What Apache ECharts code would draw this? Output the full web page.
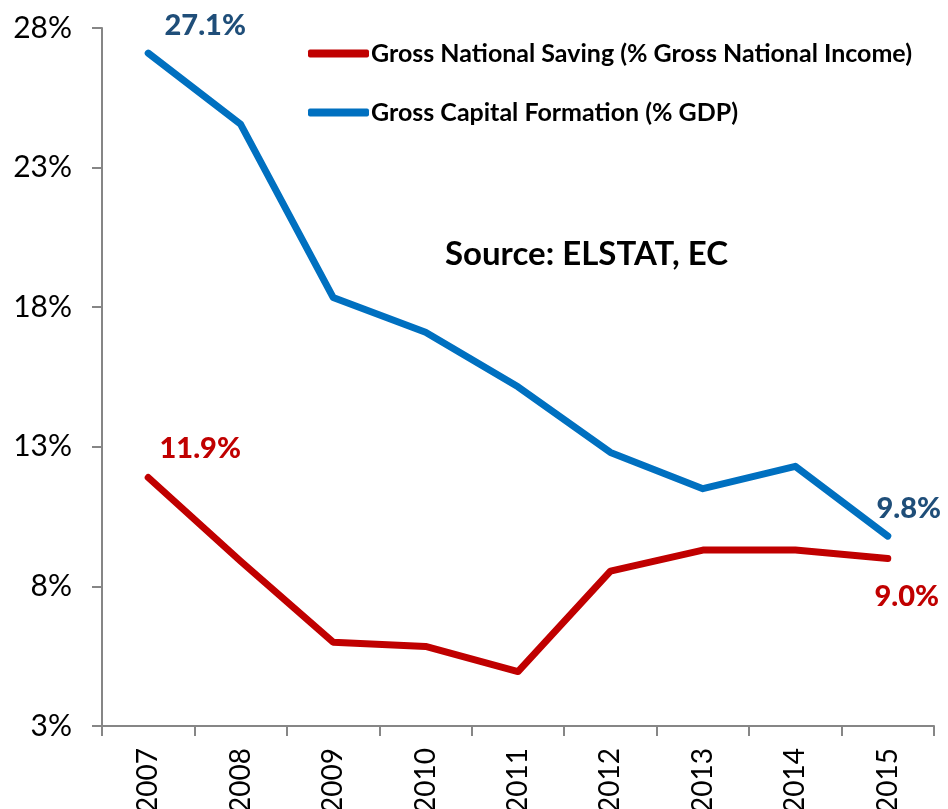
<!DOCTYPE html>
<html>
<head>
<meta charset="utf-8">
<script src="https://cdn.jsdelivr.net/npm/echarts@6/dist/echarts.min.js"></script>
<style>
  html, body { margin: 0; padding: 0; background: #fff; }
  #chart { width: 948px; height: 809px; }
</style>
</head>
<body>
<div id="chart"></div>
<script>
// Greece: saving vs investment, 2007-2015
const years = ['2007', '2008', '2009', '2010', '2011', '2012', '2013', '2014', '2015'];
const savingName = 'Gross National Saving (% Gross National Income)';
const capitalName = 'Gross Capital Formation (% GDP)';
const saving = [11.9, 8.9, 6.0, 5.85, 4.95, 8.55, 9.3, 9.3, 9.0];
const capital = [27.1, 24.55, 18.35, 17.1, 15.15, 12.8, 11.5, 12.3, 9.8];
const sourceText = 'Source: ELSTAT, EC';

const FONT = 'Lato, "Open Sans", sans-serif';
const RED = '#C00000';
const BLUE = '#0070C0';
const BLUE_LABEL = '#1F4E79';

// Only the first and last points carry a value label
function withEndLabels(values, color, firstOffset, lastOffset) {
  return values.map((v, i) => {
    const item = { value: v };
    if (i === 0 || i === values.length - 1) {
      item.label = {
        show: true,
        position: 'top',
        offset: i === 0 ? firstOffset : lastOffset,
        formatter: (p) => p.value.toFixed(1) + '%',
        color: color,
        fontFamily: FONT,
        fontWeight: 900,
        fontSize: 29
      };
    }
    return item;
  });
}

const chart = echarts.init(document.getElementById('chart'), null, { renderer: 'canvas' });
chart.setOption({
  backgroundColor: '#ffffff',
  animation: false,
  grid: { left: 102, right: 14, top: 28, bottom: 83, containLabel: false, outerBoundsMode: 'none' },
  title: {
    text: sourceText,
    left: 440,
    top: 233,
    textStyle: { fontFamily: FONT, fontWeight: 'bold', fontSize: 33, color: '#000' }
  },
  legend: {
    orient: 'vertical',
    left: 303,
    top: 36,
    itemGap: 34,
    itemWidth: 61,
    itemHeight: 8,
    icon: 'roundRect',
    textStyle: { fontFamily: FONT, fontWeight: 'bold', fontSize: 25, color: '#000', padding: [0, 0, 0, -3] },
    data: [savingName, capitalName]
  },
  xAxis: {
    type: 'category',
    data: years,
    boundaryGap: true,
    axisLine: { lineStyle: { color: '#868686', width: 2 } },
    axisTick: { show: true, length: 10, lineStyle: { color: '#868686', width: 2 } },
    axisLabel: {
      rotate: 90,
      margin: 22,
      fontFamily: FONT,
      fontSize: 28,
      color: '#000'
    },
    splitLine: { show: false }
  },
  yAxis: {
    type: 'value',
    min: 3,
    max: 28,
    interval: 5,
    axisLine: { show: true, lineStyle: { color: '#868686', width: 2 } },
    axisTick: { show: true, length: 10, lineStyle: { color: '#868686', width: 2 } },
    axisLabel: {
      margin: 30,
      formatter: '{value}%',
      fontFamily: FONT,
      fontSize: 30,
      color: '#000'
    },
    splitLine: { show: false }
  },
  series: [
    {
      name: savingName,
      type: 'line',
      data: withEndLabels(saving, RED, [52, -9], [19, 58]),
      symbol: 'circle',
      symbolSize: 1,
      color: RED,
      itemStyle: { color: RED },
      lineStyle: { width: 7, color: RED, cap: 'round', join: 'round' }
    },
    {
      name: capitalName,
      type: 'line',
      data: withEndLabels(capital, BLUE_LABEL, [57, -7], [21, -8]),
      symbol: 'circle',
      symbolSize: 1,
      color: BLUE,
      itemStyle: { color: BLUE },
      lineStyle: { width: 7, color: BLUE, cap: 'round', join: 'round' }
    }
  ]
});
</script>
</body>
</html>
